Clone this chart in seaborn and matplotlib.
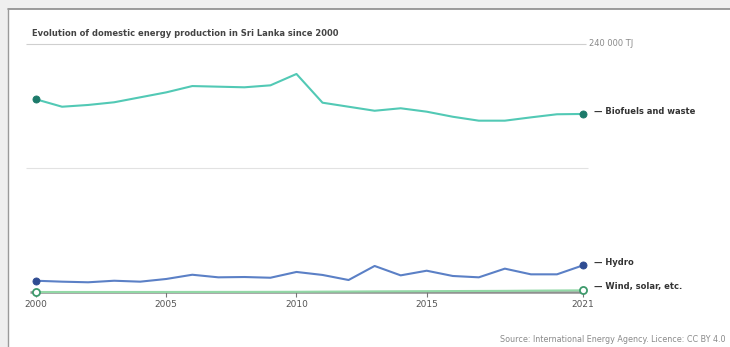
import pandas as pd
import matplotlib
matplotlib.use("Agg")
import matplotlib.pyplot as plt
from matplotlib.patches import Rectangle
import seaborn as sns

# Data (TJ)
years = list(range(2000, 2022))
biofuels = [186500, 179300, 181000, 183600, 188400, 193200, 199300, 198700, 198100, 200000, 211000,
            183200, 179300, 175400, 177800, 174500, 169600, 165800, 165800, 169000, 172000, 172300]
hydro = [10900, 10000, 9400, 10900, 10000, 12600, 16700, 14200, 14500, 13800, 19400,
         16500, 11600, 25200, 16100, 20600, 15500, 14200, 22600, 17100, 17100, 25800]
wind_solar = [0, 0, 10, 10, 20, 30, 60, 80, 100, 150, 200,
              350, 450, 600, 700, 800, 900, 1000, 1100, 1300, 1450, 1600]
series_names = ["Biofuels and waste", "Hydro", "Wind, solar, etc."]
x_ticks = [2000, 2005, 2010, 2015, 2021]

line_colors = {"Biofuels and waste": "#52c9b5", "Hydro": "#5b80c6", "Wind, solar, etc.": "#92d8a6"}
dot_colors = {"Biofuels and waste": "#1c7a6a", "Hydro": "#2f4c92", "Wind, solar, etc.": "#3e9a6c"}

df = pd.DataFrame({"year": years * 3,
                   "value": biofuels + hydro + wind_solar,
                   "series": sum([[s] * len(years) for s in series_names], [])})

sns.set_style("white")
W, H = 730, 347
fig = plt.figure(figsize=(W / 100, H / 100), dpi=100)
fig.patch.set_facecolor("#efefef")

# white panel with a darker top/left edge
fig.patches.append(Rectangle((8 / W, 0), 1, 1 - 9 / H, transform=fig.transFigure,
                             facecolor="white", edgecolor="none", zorder=-5))
fig.add_artist(plt.Line2D([8 / W, 1], [1 - 9 / H] * 2, color="#8a8a8a", lw=1.2, zorder=-4))
fig.add_artist(plt.Line2D([8 / W] * 2, [0, 1 - 9 / H], color="#9a9a9a", lw=1.0, zorder=-4))

# axes placed in pixel space: 2000 -> x=36, 2021 -> x=583, 0 -> y=292, 240000 -> y=44
px_year = (583 - 36) / 21
px_val = (292 - 44) / 240000
left_px, right_px, top_px, bot_px = 24, 595, 38, 300
xlim = (2000 - (36 - left_px) / px_year, 2000 + (right_px - 36) / px_year)
ylim = (-(bot_px - 292) / px_val, (292 - top_px) / px_val)
ax = fig.add_axes([left_px / W, 1 - bot_px / H, (right_px - left_px) / W, (bot_px - top_px) / H])
ax.set_zorder(2)
ax.set_facecolor("none")
ax.set_xlim(xlim)
ax.set_ylim(ylim)

# gridlines
gx0 = 2000 - 10 / px_year
ax.hlines(240000, gx0, 2021.1, color="#cfcfcf", lw=0.8, zorder=1)
ax.hlines(120000, gx0, 2021.2, color="#e2e2e2", lw=0.8, zorder=1)
ax.hlines(0, 2000 - 6 / px_year, 2021, color="#8f8f8f", lw=1.8, zorder=1)
for t in x_ticks:
    ax.vlines(t, -4.5 / px_val, 0, color="#777777", lw=0.8, zorder=1)
    ax.text(t, -8 / px_val, str(t), ha="center", va="top", fontsize=6.5, color="#555555")

sns.lineplot(data=df, x="year", y="value", hue="series", palette=line_colors,
             lw=1.5, legend=False, ax=ax, zorder=3)
for line in ax.lines:
    line.set_clip_on(False)

for s in series_names:
    sub = df[df["series"] == s]
    ends = sub.iloc[[0, -1]]
    hollow = s == "Wind, solar, etc."
    ax.scatter(ends["year"], ends["value"], s=26,
               facecolor="white" if hollow else dot_colors[s],
               edgecolor=dot_colors[s], linewidths=1.3 if hollow else 0.6,
               zorder=5, clip_on=False)

# end labels
label_y = {"Biofuels and waste": biofuels[-1] + 2500, "Hydro": hydro[-1] + 3000,
           "Wind, solar, etc.": wind_solar[-1] + 3500}
for s in series_names:
    ax.annotate("— " + s, (2021, label_y[s]), xytext=(11, 0), textcoords="offset pixels",
                ha="left", va="center", fontsize=6, fontweight="bold", color="#333333",
                annotation_clip=False)

ax.annotate("240 000 TJ", (2021.1, 240000), xytext=(3, 0), textcoords="offset pixels",
            ha="left", va="center", fontsize=6, color="#8a8a8a", annotation_clip=False)

ax.axis("off")

fig.text(32 / W, 1 - 34 / H, "Evolution of domestic energy production in Sri Lanka since 2000",
         ha="left", va="center", fontsize=6, fontweight="bold", color="#444444")
fig.text(725 / W, 1 - 340 / H, "Source: International Energy Agency. Licence: CC BY 4.0",
         ha="right", va="center", fontsize=5.8, color="#8a8a8a")

fig.savefig("out.png", dpi=100, facecolor=fig.get_facecolor())
